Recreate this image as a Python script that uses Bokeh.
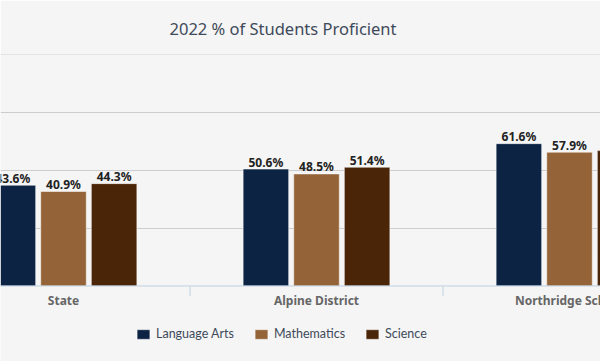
import math
from bokeh.plotting import figure
from bokeh.models import ColumnDataSource, Range1d, FixedTicker, Legend, LegendItem, Span
from bokeh.transform import dodge
from bokeh.core.properties import value
from bokeh.embed import file_html
from bokeh.resources import INLINE

# ---- data ----
categories = ["State", "Alpine District", "Northridge School"]
series = ["Language Arts", "Mathematics", "Science"]
language_arts = [43.6, 50.6, 61.6]
mathematics = [40.9, 48.5, 57.9]
science = [44.3, 51.4, 58.6]
colors = ["#0c2344", "#946438", "#4b2508"]
y_ticks = [25, 50, 75, 100]

xs = list(range(len(categories)))
values = [language_arts, mathematics, science]
data = dict(x=xs, name=categories, zero=[0] * len(xs))
for k, vals in enumerate(values):
    data[f"v{k}"] = vals
    data[f"l{k}"] = [f"{v}%" for v in vals]
source = ColumnDataSource(data)
bounds = ColumnDataSource(dict(x=[x + 0.5 for x in xs[:-1]], y=[0] * (len(xs) - 1)))

FONT = "Noto Sans"
BG = "#f5f5f5"
AXIS = "#c0d0e0"

p = figure(width=600, height=361, output_backend="svg", toolbar_location=None,
           x_range=Range1d(-0.249, 2.1225), y_range=Range1d(-32.7, 100.2),
           min_border_left=0, min_border_right=0, min_border_top=52,
           min_border_bottom=0)
p.background_fill_color = BG
p.border_fill_color = BG
p.outline_line_color = None

p.title.text = "2022 % of Students Proficient"
p.title.text_font = FONT
p.title.text_font_size = "16.5px"
p.title.text_font_style = "normal"
p.title.text_color = "#3e4a5a"
p.title.align = "left"
p.title.offset = 169
p.title.standoff = 29

p.xaxis.visible = False
p.yaxis.visible = False
p.xgrid.visible = False
p.ygrid.ticker = FixedTicker(ticks=y_ticks)
p.ygrid.grid_line_color = "#cdcdcd"

offsets = [-0.2, 0.0, 0.2]
items = []
for k, name in enumerate(series):
    r = p.vbar(x=dodge("x", offsets[k]), top=f"v{k}", bottom=0, width=0.18, source=source,
               fill_color=colors[k], line_color="#ffffff", line_alpha=0.5, line_width=1)
    p.text(x=dodge("x", offsets[k]), y=f"v{k}", text=f"l{k}", source=source,
           text_align="center", text_baseline="alphabetic", y_offset=-7,
           text_font=value(FONT), text_font_style="bold", text_font_size="12px",
           text_color="#222222")
    items.append(LegendItem(label=name, renderers=[r]))

# x axis line, category separators and category labels
p.add_layout(Span(location=0, dimension="width", line_color=AXIS, line_width=1))
p.ray(x="x", y="y", length=10, length_units="screen", angle=-math.pi / 2,
      source=bounds, line_color=AXIS, line_width=1)
p.text(x="x", y="zero", text="name", source=source, text_align="center",
       text_baseline="middle", y_offset=15, text_font=value(FONT),
       text_font_style="bold", text_font_size="12px", text_color="#666666")

legend = Legend(items=items, location=(135, 20), orientation="horizontal",
                glyph_width=16, glyph_height=12, label_standoff=5, spacing=19,
                padding=0, margin=0, border_line_color=None,
                background_fill_alpha=0, label_text_font="Lato",
                label_text_font_size="12.5px", label_text_color="#3e4a5a")
p.add_layout(legend)

open("out.html", "w").write(file_html(p, INLINE))
